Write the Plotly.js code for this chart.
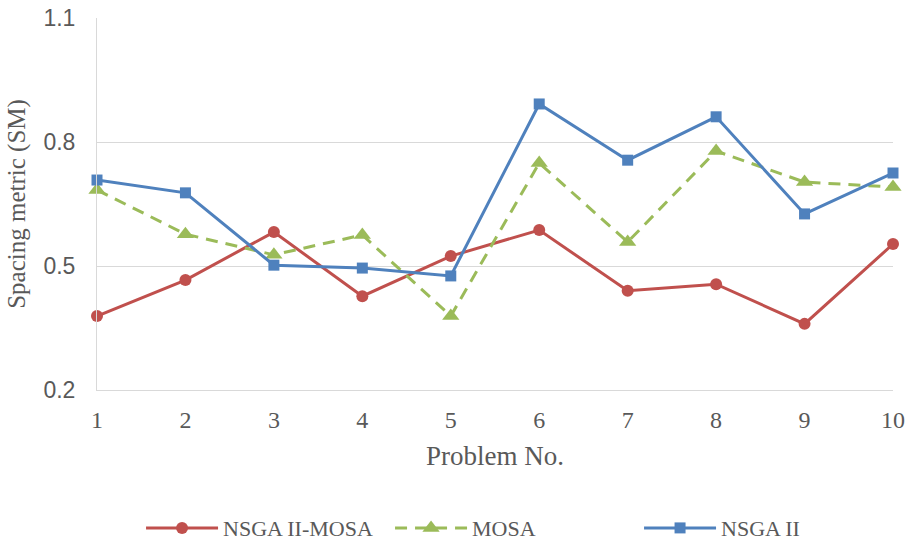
<!DOCTYPE html>
<html><head><meta charset="utf-8">
<script src="https://cdn.plot.ly/plotly-3.0.1.min.js"></script>
<style>html,body{margin:0;padding:0;background:#fff}#c{width:910px;height:545px}</style>
</head><body><div id="c"></div>
<script>
const problems = [1,2,3,4,5,6,7,8,9,10];
const nsga2mosa = [0.379,0.466,0.582,0.427,0.524,0.587,0.440,0.456,0.360,0.553];
const mosa = [0.684,0.577,0.527,0.575,0.379,0.749,0.558,0.778,0.703,0.691];
const nsga2 = [0.708,0.677,0.502,0.495,0.476,0.892,0.756,0.861,0.626,0.725];
const yTicks = [0.2,0.5,0.8,1.1];

const serif = "Liberation Serif, Times New Roman, serif";
const traces = [
  {x:problems, y:nsga2mosa, name:"NSGA II-MOSA", mode:"lines+markers",
   line:{color:"#C0504D", width:3}, marker:{symbol:"circle", size:12, color:"#C0504D"}},
  {x:problems, y:mosa, name:"MOSA", mode:"lines+markers",
   line:{color:"#9BBB59", width:3, dash:"12px,8px"}, marker:{symbol:"triangle-up", size:15, color:"#9BBB59"}},
  {x:problems, y:nsga2, name:"NSGA II", mode:"lines+markers",
   line:{color:"#4F81BD", width:3}, marker:{symbol:"square", size:11, color:"#4F81BD"}}
];
const layout = {
  width:910, height:545,
  margin:{l:97, r:17, t:18, b:155, autoexpand:false},
  paper_bgcolor:"#fff", plot_bgcolor:"#fff",
  showlegend:true,
  legend:{orientation:"h", x:0.155, xanchor:"left", xref:"container",
          y:0.031, yanchor:"middle", yref:"container",
          font:{family:serif, size:22, color:"#595959"}, itemwidth:72,
          entrywidth:162, entrywidthmode:"pixels"},
  xaxis:{range:[1,10], tickvals:problems, ticktext:problems.map(String),
         showgrid:false, zeroline:false, showline:true, linecolor:"#D9D9D9", linewidth:1,
         ticks:"", ticklen:0, automargin:false, ticklabelstandoff:8,
         tickfont:{family:serif, size:24, color:"#595959"},
         title:{text:"Problem No.", font:{family:serif, size:27, color:"#595959"}, standoff:14}},
  yaxis:{range:[0.2,1.1], tickvals:yTicks, ticktext:yTicks.map(v=>v.toFixed(1)),
         showgrid:true, gridcolor:"#D9D9D9", gridwidth:1, zeroline:false, automargin:false,
         showline:true, linecolor:"#D9D9D9", linewidth:1, ticks:"", ticklabelstandoff:16,
         tickfont:{family:"Liberation Sans, Arial, sans-serif", size:23, color:"#595959"},
         title:{text:"Spacing metric (SM)", font:{family:serif, size:25, color:"#595959"}, standoff:10}}
};
Plotly.newPlot("c", traces.map(t=>Object.assign(t,{cliponaxis:false})), layout, {displayModeBar:false, staticPlot:true});
</script></body></html>
